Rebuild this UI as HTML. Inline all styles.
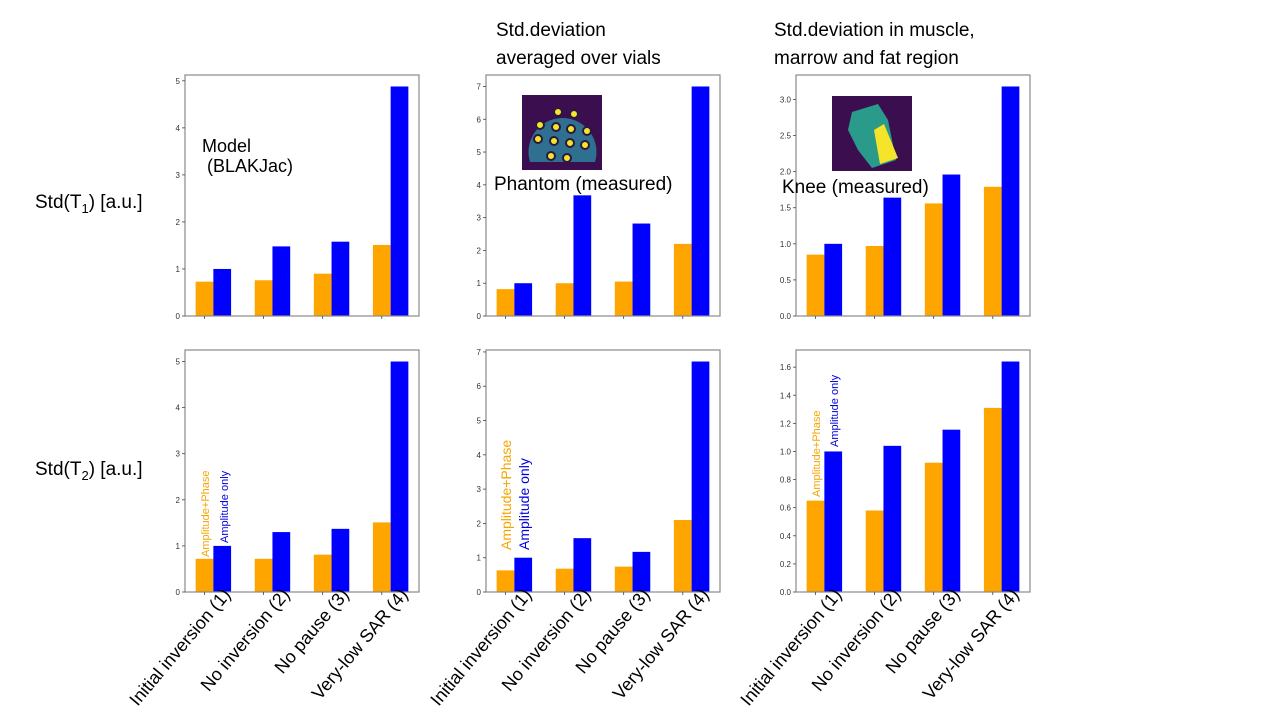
<!DOCTYPE html>
<html><head><meta charset="utf-8">
<style>
html,body{margin:0;padding:0;background:#fff;}
svg{display:block;font-family:"Liberation Sans",sans-serif;}
</style></head>
<body>
<svg id="fig" width="1280" height="720" viewBox="0 0 1280 720" xmlns="http://www.w3.org/2000/svg">
  <text x="35" y="208" font-size="19">Std(T<tspan font-size="13" dy="5">1</tspan><tspan dy="-5">) [a.u.]</tspan></text>
  <text x="35" y="475" font-size="19">Std(T<tspan font-size="13" dy="5">2</tspan><tspan dy="-5">) [a.u.]</tspan></text>
  <text x="496" y="36" font-size="19">Std.deviation</text>
  <text x="496" y="64" font-size="19">averaged over vials</text>
  <text x="774" y="36" font-size="19">Std.deviation in muscle,</text>
  <text x="774" y="64" font-size="19">marrow and fat region</text>
  <g id="panels"></g>
  <g id="overlays">
    <text x="202" y="152" font-size="18">Model</text>
    <text x="207" y="172" font-size="18">(BLAKJac)</text>
    <g>
      <rect x="522" y="95" width="80" height="75" fill="#3b0f4f"/>
      <path d="M530 162 A34 34 0 1 1 595 162 Z" fill="#2f6f8f"/>
      <g fill="#f5e52a" stroke="#2a1840" stroke-width="2">
        <circle cx="558" cy="112" r="4"/><circle cx="574" cy="114" r="4"/>
        <circle cx="540" cy="125" r="4"/><circle cx="556" cy="127" r="4"/><circle cx="571" cy="129" r="4"/><circle cx="587" cy="131" r="4"/>
        <circle cx="538" cy="139" r="4"/><circle cx="554" cy="141" r="4"/><circle cx="570" cy="143" r="4"/><circle cx="585" cy="145" r="4"/>
        <circle cx="551" cy="156" r="4"/><circle cx="567" cy="158" r="4"/>
      </g>
    </g>
    <text x="494" y="190" font-size="19">Phantom (measured)</text>
    <g>
      <rect x="832" y="96" width="80" height="75" fill="#3b0f4f"/>
      <path d="M852 112 L878 104 L888 120 L896 160 L872 168 L858 150 L848 130 Z" fill="#2a9a8a"/>
      <path d="M874 130 L884 124 L898 158 L880 164 Z" fill="#f5e52a"/>
    </g>
    <text x="782" y="193" font-size="19">Knee (measured)</text>
    <text transform="translate(209,557) rotate(-90)" font-size="11" fill="#f5a500">Amplitude+Phase</text>
    <text transform="translate(228,543) rotate(-90)" font-size="11" fill="#0000e0">Amplitude only</text>
    <text transform="translate(511,550) rotate(-90)" font-size="14" fill="#f5a500">Amplitude+Phase</text>
    <text transform="translate(529,550) rotate(-90)" font-size="14" fill="#0000e0">Amplitude only</text>
    <text transform="translate(820,497) rotate(-90)" font-size="11" fill="#f5a500">Amplitude+Phase</text>
    <text transform="translate(838,447) rotate(-90)" font-size="11" fill="#0000e0">Amplitude only</text>
  </g>
</svg>
<script>
const categories = ["Initial inversion (1)", "No inversion (2)", "No pause (3)", "Very-low SAR (4)"];
const modelT1Phase = [0.73, 0.76, 0.90, 1.51];
const modelT1Amp = [1.0, 1.48, 1.58, 4.88];
const phantomT1Phase = [0.82, 1.0, 1.05, 2.2];
const phantomT1Amp = [1.0, 3.68, 2.82, 7.0];
const kneeT1Phase = [0.85, 0.97, 1.56, 1.79];
const kneeT1Amp = [1.0, 1.64, 1.96, 3.18];
const modelT2Phase = [0.72, 0.72, 0.81, 1.51];
const modelT2Amp = [1.0, 1.30, 1.37, 5.0];
const phantomT2Phase = [0.63, 0.68, 0.74, 2.1];
const phantomT2Amp = [1.0, 1.57, 1.17, 6.72];
const kneeT2Phase = [0.65, 0.58, 0.92, 1.31];
const kneeT2Amp = [1.0, 1.04, 1.155, 1.64];
const ticksInt5 = ["0","1","2","3","4","5"];
const ticksInt7 = ["0","1","2","3","4","5","6","7"];
const ticksKneeT1 = ["0.0","0.5","1.0","1.5","2.0","2.5","3.0"];
const ticksKneeT2 = ["0.0","0.2","0.4","0.6","0.8","1.0","1.2","1.4","1.6"];

const NS = "http://www.w3.org/2000/svg";
const root = document.getElementById('panels');
function mk(tag, attrs, parent){const e=document.createElementNS(NS,tag);for(const k in attrs)e.setAttribute(k,attrs[k]);parent.appendChild(e);return e;}

const panels = [
  {name:'model-t1', x0:185, top:75, bot:316, a:modelT1Phase, b:modelT1Amp, ticks:ticksInt5, labels:false},
  {name:'phantom-t1', x0:486, top:75, bot:316, a:phantomT1Phase, b:phantomT1Amp, ticks:ticksInt7, labels:false},
  {name:'knee-t1', x0:796, top:75, bot:316, a:kneeT1Phase, b:kneeT1Amp, ticks:ticksKneeT1, labels:false},
  {name:'model-t2', x0:185, top:350, bot:592, a:modelT2Phase, b:modelT2Amp, ticks:ticksInt5, labels:true},
  {name:'phantom-t2', x0:486, top:350, bot:592, a:phantomT2Phase, b:phantomT2Amp, ticks:ticksInt7, labels:true},
  {name:'knee-t2', x0:796, top:350, bot:592, a:kneeT2Phase, b:kneeT2Amp, ticks:ticksKneeT2, labels:true}
];
const W = 234, XMIN = -0.33, XMAX = 3.63, BW = 0.3;
panels.forEach(p=>{
  const g = mk('g',{},root);
  
  
  const ymax = Math.max(...p.a, ...p.b)*1.05;
  const xs = v => p.x0 + (v-XMIN)/(XMAX-XMIN)*W;
  const ys = v => p.bot - v/ymax*(p.bot-p.top);
  p.a.forEach((v,i)=>{
    const r = mk('rect',{x:xs(i-BW/2),y:ys(v),width:xs(BW)-xs(0),height:p.bot-ys(v),fill:'#ffa500'},g);
    
    
  });
  p.b.forEach((v,i)=>{
    const r = mk('rect',{x:xs(i+BW/2),y:ys(v),width:xs(BW)-xs(0),height:p.bot-ys(v),fill:'#0000ff'},g);
    
    
  });
  const box = mk('rect',{x:p.x0,y:p.top,width:W,height:p.bot-p.top,fill:'none',stroke:'#8a8a8a','stroke-width':1.2},g);
  
  
  p.ticks.forEach(t=>{
    const y = ys(parseFloat(t));
    mk('line',{x1:p.x0-3,x2:p.x0,y1:y,y2:y,stroke:'#444','stroke-width':0.8},g);
    const tx = mk('text',{x:p.x0-5,y:y+3,'font-size':8,'text-anchor':'end',fill:'#333'},g);
    
    
    tx.textContent = t;
  });
  categories.forEach((c,i)=>{
    const x = xs(i);
    mk('line',{x1:x,x2:x,y1:p.bot,y2:p.bot+3,stroke:'#444','stroke-width':0.8},g);
    if(p.labels){
      const tx = mk('text',{transform:`translate(${x+27},${p.bot+3}) rotate(-50)`,'font-size':18,'text-anchor':'end',fill:'#000'},g);
      
      
      tx.textContent = c;
    }
  });
});
</script>
</body></html>
